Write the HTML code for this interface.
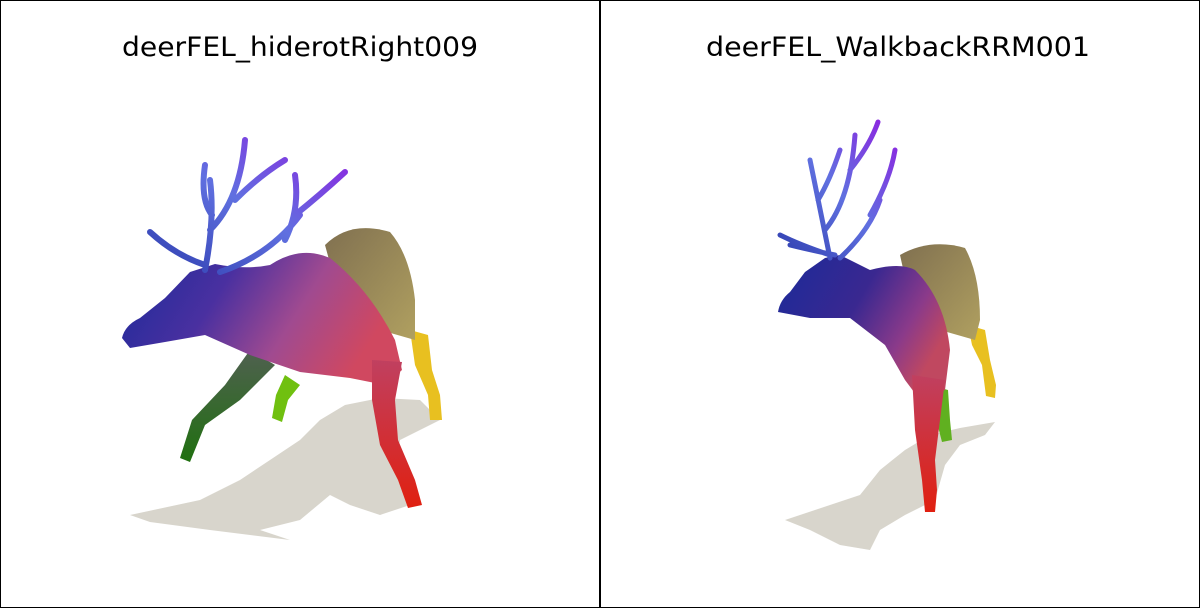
<!DOCTYPE html>
<html><head><meta charset="utf-8"><style>
html,body{margin:0;padding:0;background:#fff}
svg{display:block}
text{font-family:"DejaVu Sans","Liberation Sans",sans-serif}
</style></head><body>
<svg width="1200" height="608" viewBox="0 0 1200 608">
<defs>
<linearGradient id="bodyL" x1="0" y1="0" x2="1" y2="0.3">
<stop offset="0" stop-color="#1a2a9a"/><stop offset="0.4" stop-color="#4a30a0"/><stop offset="0.7" stop-color="#a04a90"/><stop offset="1" stop-color="#d04860"/></linearGradient>
<linearGradient id="bodyR" x1="0" y1="0" x2="1" y2="0.5">
<stop offset="0" stop-color="#1a2a9a"/><stop offset="0.5" stop-color="#3a2890"/><stop offset="0.8" stop-color="#8a3a8a"/><stop offset="1" stop-color="#c04860"/></linearGradient>
<linearGradient id="rump" x1="0" y1="0" x2="1" y2="1">
<stop offset="0" stop-color="#807050"/><stop offset="1" stop-color="#b0a060"/></linearGradient>
<linearGradient id="ant" x1="0" y1="1" x2="1" y2="0">
<stop offset="0" stop-color="#3040b0"/><stop offset="0.5" stop-color="#6070e0"/><stop offset="1" stop-color="#9020e0"/></linearGradient>
<linearGradient id="red" x1="0" y1="0" x2="0" y2="1">
<stop offset="0" stop-color="#c04060"/><stop offset="1" stop-color="#e02010"/></linearGradient>
<linearGradient id="dg" x1="0" y1="0" x2="0" y2="1">
<stop offset="0" stop-color="#506050"/><stop offset="1" stop-color="#207010"/></linearGradient>
</defs>
<rect x="0.5" y="0.5" width="1199" height="607" fill="#fff" stroke="#000" stroke-width="1"/>
<line x1="600" y1="0" x2="600" y2="608" stroke="#000" stroke-width="2"/>

<g>
<text x="122" y="56" textLength="356" lengthAdjust="spacingAndGlyphs" font-size="27" fill="#000">deerFEL_hiderotRight009</text>
<path fill="#d8d5cc" d="M130,515 L200,500 L240,480 L270,460 L300,440 L320,420 L345,405 L380,398 L420,400 L440,420 L420,430 L400,440 L395,470 L410,505 L380,515 L350,505 L330,495 L300,520 L260,530 L290,540 L250,535 L210,530 L150,522 Z"/>
<path fill="url(#dg)" d="M250,350 L275,365 L240,400 L205,425 L190,462 L180,458 L192,420 L225,385 Z"/>
<path fill="#70c010" d="M285,375 L300,385 L288,400 L282,422 L272,418 L276,395 Z"/>
<path fill="#e8c020" d="M410,330 L428,335 L432,370 L440,395 L442,420 L430,420 L428,395 L415,365 Z"/>
<path fill="url(#rump)" d="M325,245 Q350,220 390,232 Q410,255 415,300 L415,340 L380,330 L340,300 Z"/>
<path fill="url(#bodyL)" d="M122,338 Q125,325 140,318 L165,298 L190,272 L215,264 Q245,270 270,265 Q300,245 330,258 Q370,290 395,340 L402,370 L385,385 L350,378 L300,372 L250,355 L205,335 L165,342 L130,348 Z"/>
<path fill="url(#red)" d="M372,360 L402,362 L395,400 L398,440 L415,480 L422,505 L408,508 L398,480 L380,445 L372,400 Z"/>
<path fill="none" stroke="url(#ant)" stroke-width="6" stroke-linecap="round" d="M205,270 Q215,220 210,180 M212,215 Q200,200 205,165 M210,230 Q240,200 245,140 M235,200 Q260,175 285,160 M205,265 Q175,255 150,232 M220,272 Q270,255 300,215 M285,240 Q300,210 295,175 M295,215 Q320,195 345,172"/>
</g>

<g>
<text x="706" y="56" textLength="384" lengthAdjust="spacingAndGlyphs" font-size="27" fill="#000">deerFEL_WalkbackRRM001</text>
<path fill="#d8d5cc" d="M785,520 L830,505 L860,495 L880,470 L905,450 L930,435 L960,428 L995,422 L985,435 L960,445 L945,465 L935,500 L905,515 L880,530 L870,550 L840,545 L810,530 Z"/>
<path fill="#60b020" d="M930,385 L948,390 L950,420 L952,440 L942,442 L935,415 Z"/>
<path fill="#e8c020" d="M968,325 L985,330 L990,360 L996,385 L995,398 L986,396 L982,365 L972,345 Z"/>
<path fill="url(#rump)" d="M900,255 Q930,238 965,248 Q980,275 980,320 L975,340 L940,330 L910,300 Z"/>
<path fill="url(#bodyR)" d="M778,312 Q780,300 790,292 L805,272 L825,258 L840,255 L870,270 Q900,262 915,270 Q945,300 950,350 L945,390 L920,400 L905,380 L885,345 L850,318 L810,318 Z"/>
<path fill="url(#red)" d="M912,375 L945,380 L940,420 L935,460 L937,490 L935,512 L925,512 L922,480 L915,430 Z"/>
<path fill="none" stroke="url(#ant)" stroke-width="5" stroke-linecap="round" d="M830,258 Q820,210 810,160 M818,200 Q830,180 840,150 M825,230 Q850,200 855,135 M850,170 Q870,145 878,122 M830,255 Q800,245 780,235 M835,255 Q810,250 790,245 M840,258 Q870,230 880,200 M870,215 Q890,180 895,150"/>
</g>
</svg>
</body></html>
